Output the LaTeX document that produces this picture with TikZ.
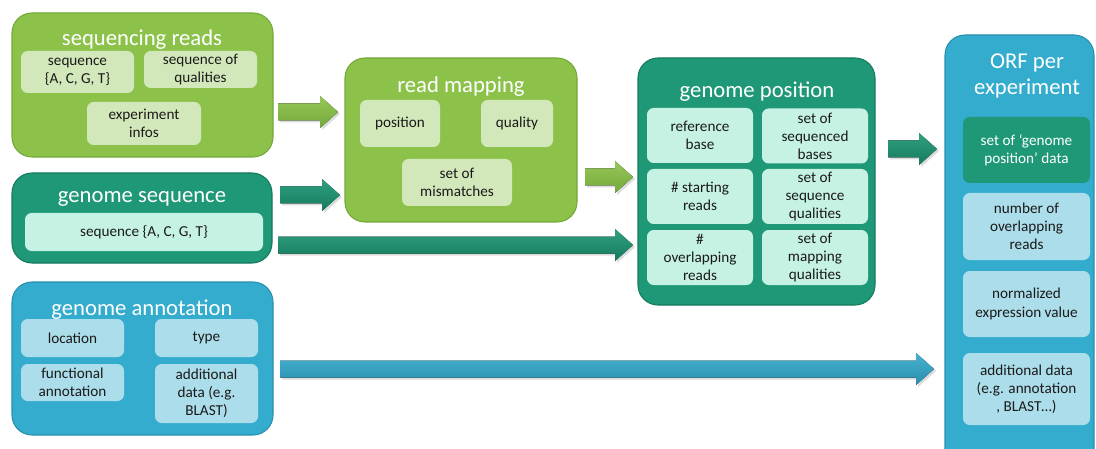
\documentclass[tikz,border=0pt]{standalone}
\usepackage{fontspec}
\setmainfont{Carlito}
\usetikzlibrary{calc}

\definecolor{grn}{HTML}{8CC24A}
\definecolor{grnedge}{HTML}{74A83A}
\definecolor{grnsub}{HTML}{D3E8BA}
\definecolor{tea}{HTML}{1E9876}
\definecolor{teaedge}{HTML}{167A5E}
\definecolor{teasub}{HTML}{C6F2E3}
\definecolor{blu}{HTML}{34ACCD}
\definecolor{bluedge}{HTML}{2A8FAD}
\definecolor{blusub}{HTML}{ACDDEA}
\definecolor{txt}{HTML}{1A1A1A}

\tikzset{
  sz/.style 2 args={minimum width=#1*0.75pt, minimum height=#2*0.75pt, inner sep=0pt},
  panel/.style 2 args={rectangle, rounded corners=15pt, fill=#1, draw=#2, line width=0.8pt},
  cell/.style={rectangle, rounded corners=5pt, text=txt, align=center,
    font=\fontsize{11.4}{13.6}\selectfont},
  cellg/.style={cell, fill=grnsub},
  cellt/.style={cell, fill=teasub},
  cellb/.style={cell, fill=blusub},
  heading/.style={text=white, align=center, inner sep=0pt,
    font=\fontsize{17}{18.8}\selectfont},
  arrG/.style={top color=grn!92!white, bottom color=grnedge},
  arrT/.style={top color=tea!92!white, bottom color=teaedge},
  arrB/.style={top color=blu!92!white, bottom color=bluedge},
}

% wide block arrow between two named points
\newcommand\blockarrow[3]{%
  \fill[black, opacity=0.14] ($(#1)+(2,-6.5)$) -- ($(#2)+(-16,-6.5)$) -- ($(#2)+(-16,-14)$)
    -- ($(#2)+(2,2)$) -- ($(#2)+(-16,18)$) -- ($(#2)+(-16,10.5)$) -- ($(#1)+(2,10.5)$) -- cycle;
  \fill[#3] ($(#1)+(0,-8.5)$) -- ($(#2)+(-18,-8.5)$) -- ($(#2)+(-18,-16)$)
    -- (#2) -- ($(#2)+(-18,16)$) -- ($(#2)+(-18,8.5)$) -- ($(#1)+(0,8.5)$) -- cycle;}

\begin{document}
\begin{tikzpicture}[x=0.75pt,y=-0.75pt]
\useasboundingbox (0,0) rectangle (1096,449);
\clip (0,0) rectangle (1096,449);

% ---- sequencing reads
\node[panel={grn}{grnedge}, sz={261}{144}] (sr) at (142.5,85) {};
\node[heading] (srT) at (142,40) {sequencing reads};
\node[cellg, sz={113}{42}] (sr1) at (77.5,72) {sequence\\\{A, C, G, T\}};
\node[cellg, sz={113}{37}] (sr2) at (200.5,69.5) {sequence of\\qualities};
\node[cellg, sz={114}{43}] (sr3) at (144,123.5) {experiment\\infos};

% ---- genome sequence
\node[panel={tea}{teaedge}, sz={260}{90}] (gs) at (142,218) {};
\node[heading] (gsT) at (142,199) {genome sequence};
\node[cellt, sz={238}{38}] (gs1) at (144,232) {sequence \{A, C, G, T\}};

% ---- genome annotation
\node[panel={blu}{bluedge}, sz={261}{153}] (ga) at (142.5,358.5) {};
\node[heading] (gaT) at (142,310) {genome annotation};
\node[cellb, sz={103}{38}] (ga1) at (72.5,338) {location};
\node[cellb, sz={103}{38}] (ga2) at (206.5,338) {type};
\node[cellb, sz={103}{37}] (ga3) at (72.5,382.5) {functional\\annotation};
\node[cellb, sz={103}{59}] (ga4) at (206.5,393.5) {additional\\data (e.g.\\BLAST)};

% ---- read mapping
\node[panel={grn}{grnedge}, sz={232}{164}] (rm) at (461,140) {};
\node[heading] (rmT) at (461,87) {read mapping};
\node[cellg, sz={80}{47}] (rm1) at (400,123.5) {position};
\node[cellg, sz={72}{47}] (rm2) at (517,123.5) {quality};
\node[cellg, sz={110}{47}] (rm3) at (457,182.5) {set of\\mismatches};

% ---- genome position
\node[panel={tea}{teaedge}, sz={237}{247}] (gp) at (756.5,181.5) {};
\node[heading] (gpT) at (757,92) {genome position};
\node[cellt, sz={106}{55}] (gp1) at (700,135.5) {reference\\base};
\node[cellt, sz={106}{55}] (gp2) at (815,136) {set of\\sequenced\\bases};
\node[cellt, sz={106}{55}] (gp3) at (700,196.5) {\# starting\\reads};
\node[cellt, sz={106}{55}] (gp4) at (815,196.5) {set of\\sequence\\qualities};
\node[cellt, sz={106}{55}] (gp5) at (700,257.5) {\#\\overlapping\\reads};
\node[cellt, sz={106}{55}] (gp6) at (815,257.5) {set of\\mapping\\qualities};

% ---- ORF per experiment
\node[panel={blu}{bluedge}, sz={149}{435}] (orf) at (1019.5,252.5) {};
\node[heading] (orfT) at (1027,76) {ORF per\\experiment};
\node[cell, fill=tea, text=white, sz={127}{66}] (orf1) at (1026.5,150) {set of ‘genome\\position’ data};
\node[cellb, sz={127}{67}] (orf2) at (1026.5,226.5) {number of\\overlapping\\reads};
\node[cellb, sz={127}{66}] (orf3) at (1026.5,304) {normalized\\expression value};
\node[cellb, sz={127}{72}] (orf4) at (1026.5,389) {additional data\\(e.g. annotation\\, BLAST…)};

% ---- arrow end points
\coordinate (a1s) at (278,112);  \coordinate (a1e) at (338,112);
\coordinate (a2s) at (280,195);  \coordinate (a2e) at (340,195);
\coordinate (a3s) at (278,245);  \coordinate (a3e) at (633,245);
\coordinate (a4s) at (585,177);  \coordinate (a4e) at (633,177);
\coordinate (a5s) at (888,149);  \coordinate (a5e) at (937,149);
\coordinate (a6s) at (280,369);  \coordinate (a6e) at (934,369);

\blockarrow{a1s}{a1e}{arrG}
\blockarrow{a2s}{a2e}{arrT}
\blockarrow{a3s}{a3e}{arrT}
\blockarrow{a4s}{a4e}{arrG}
\blockarrow{a5s}{a5e}{arrT}
\blockarrow{a6s}{a6e}{arrB}
\end{tikzpicture}
\end{document}
